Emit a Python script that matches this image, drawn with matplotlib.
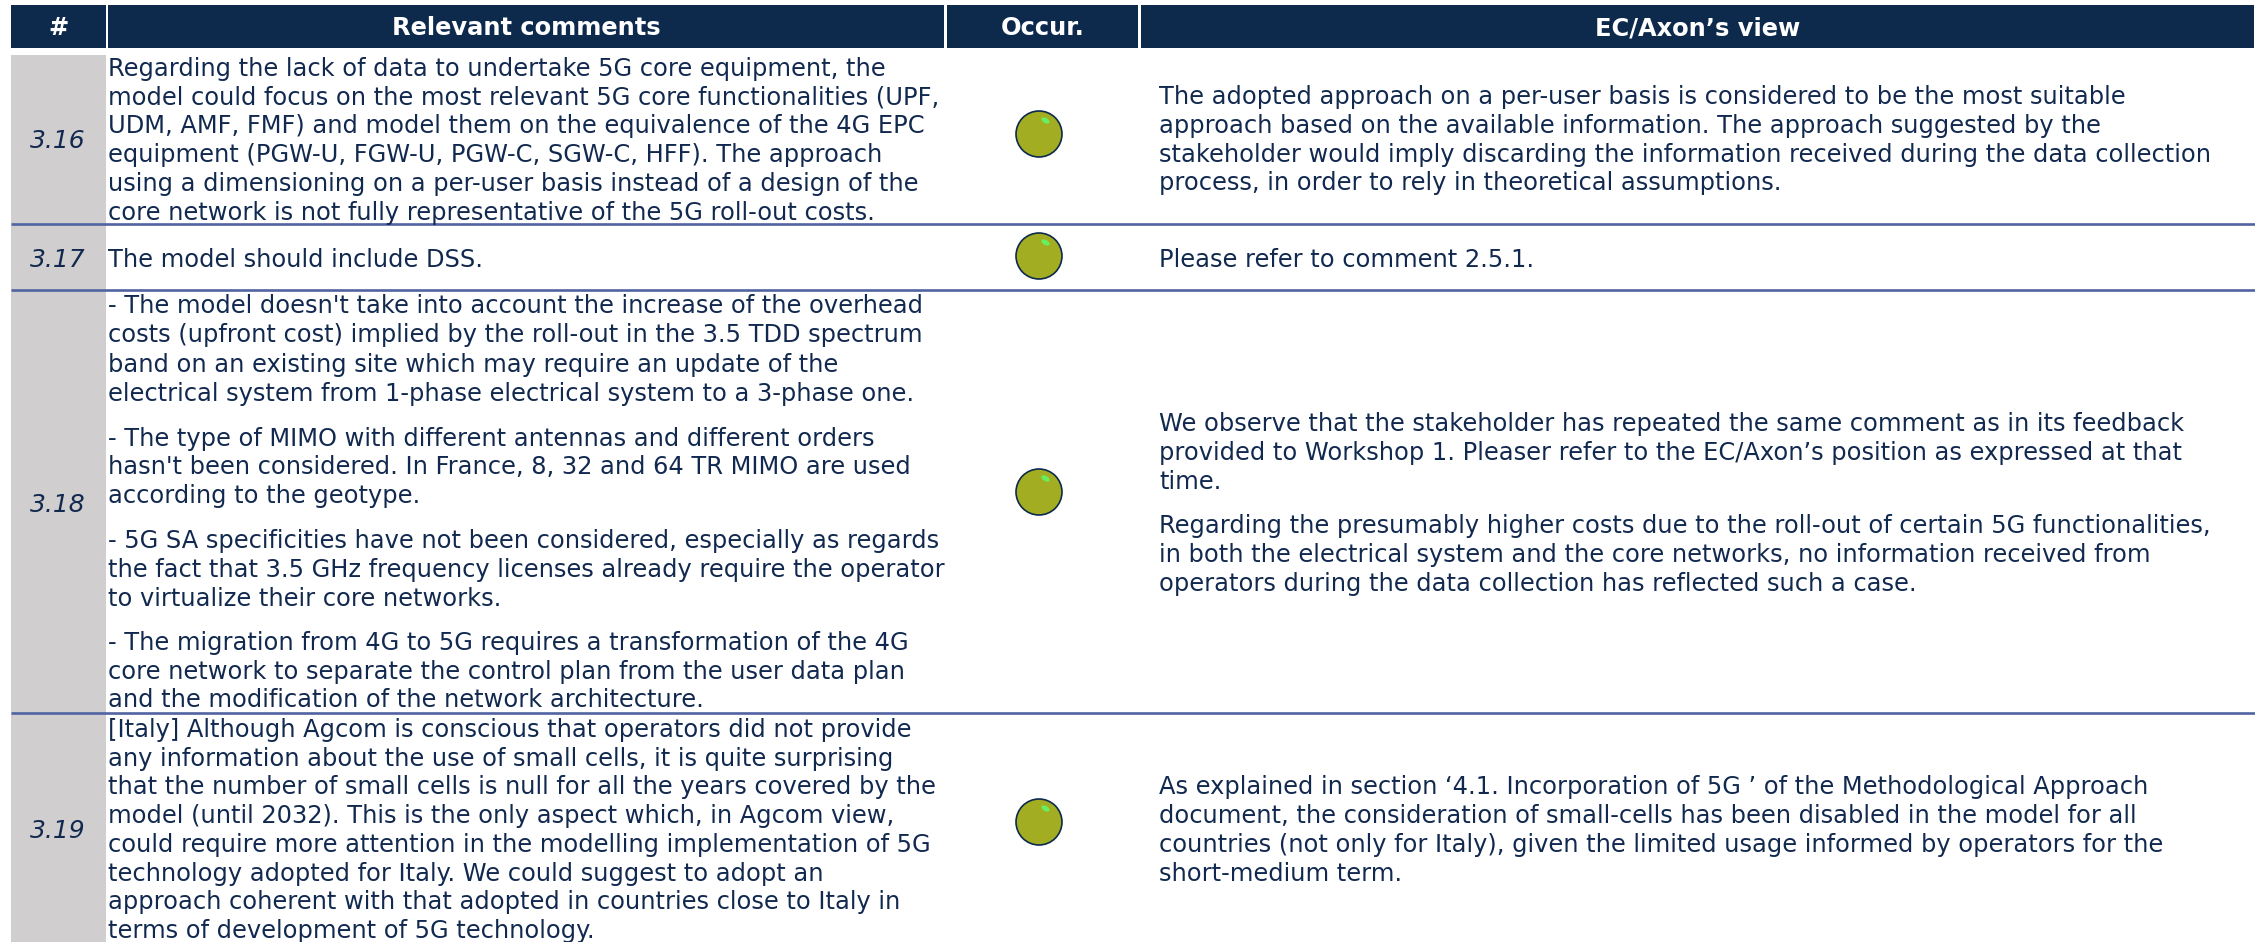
import matplotlib
matplotlib.use('Agg')
import matplotlib.pyplot as plt
from matplotlib.patches import Rectangle, Circle, Ellipse

NAVY = '#0D2A4D'
TEXT = '#12294F'
GREY = '#D0CECE'
RULE = '#5163A0'
OLIVE = '#A2AD22'

headers = ['#', 'Relevant comments', 'Occur.', 'EC/Axon\u2019s view']
row_ids = ['3.16', '3.17', '3.18', '3.19']

comments = [
    ['Regarding the lack of data to undertake 5G core equipment, the',
     'model could focus on the most relevant 5G core functionalities (UPF,',
     'UDM, AMF, FMF) and model them on the equivalence of the 4G EPC',
     'equipment (PGW-U, FGW-U, PGW-C, SGW-C, HFF). The approach',
     'using a dimensioning on a per-user basis instead of a design of the',
     'core network is not fully representative of the 5G roll-out costs.'],
    ['The model should include DSS.'],
    ["- The model doesn't take into account the increase of the overhead",
     'costs (upfront cost) implied by the roll-out in the 3.5 TDD spectrum',
     'band on an existing site which may require an update of the',
     'electrical system from 1-phase electrical system to a 3-phase one.',
     '- The type of MIMO with different antennas and different orders',
     "hasn't been considered. In France, 8, 32 and 64 TR MIMO are used",
     'according to the geotype.',
     '- 5G SA specificities have not been considered, especially as regards',
     'the fact that 3.5 GHz frequency licenses already require the operator',
     'to virtualize their core networks.',
     '- The migration from 4G to 5G requires a transformation of the 4G',
     'core network to separate the control plan from the user data plan',
     'and the modification of the network architecture.'],
    ['[Italy] Although Agcom is conscious that operators did not provide',
     'any information about the use of small cells, it is quite surprising',
     'that the number of small cells is null for all the years covered by the',
     'model (until 2032). This is the only aspect which, in Agcom view,',
     'could require more attention in the modelling implementation of 5G',
     'technology adopted for Italy. We could suggest to adopt an',
     'approach coherent with that adopted in countries close to Italy in',
     'terms of development of 5G technology.'],
]

views = [
    ['The adopted approach on a per-user basis is considered to be the most suitable',
     'approach based on the available information. The approach suggested by the',
     'stakeholder would imply discarding the information received during the data collection',
     'process, in order to rely in theoretical assumptions.'],
    ['Please refer to comment 2.5.1.'],
    ['We observe that the stakeholder has repeated the same comment as in its feedback',
     'provided to Workshop 1. Pleaser refer to the EC/Axon\u2019s position as expressed at that',
     'time.',
     'Regarding the presumably higher costs due to the roll-out of certain 5G functionalities,',
     'in both the electrical system and the core networks, no information received from',
     'operators during the data collection has reflected such a case.'],
    ['As explained in section \u20184.1. Incorporation of 5G \u2019 of the Methodological Approach',
     'document, the consideration of small-cells has been disabled in the model for all',
     'countries (not only for Italy), given the limited usage informed by operators for the',
     'short-medium term.'],
]

# baselines in pixels from the top of the image
comment_y = [
    [76, 105, 133, 162, 191, 220],
    [267],
    [313, 342, 372, 401, 446, 474, 503, 548, 577, 606, 650, 679, 707],
    [737, 766, 794, 823, 852, 881, 909, 938],
]
view_y = [
    [104, 133, 162, 190],
    [267],
    [431, 460, 489, 533, 562, 591],
    [794, 823, 852, 881],
]
id_y = [148, 267, 512, 838]
occur_y = [134, 256, 492, 822]
rule_y = [224, 290, 713]

header_x = [(11, 106), (108, 944), (947, 1138), (1141, 2254)]

fs = 17.4

fig = plt.figure(figsize=(22.55, 9.42), dpi=100)
ax = fig.add_axes([0, 0, 1, 1])
ax.set_xlim(0, 2255)
ax.set_ylim(942, 0)
ax.axis('off')

for (x0, x1), label in zip(header_x, headers):
    ax.add_patch(Rectangle((x0, 5), x1 - x0, 43, facecolor=NAVY, edgecolor='none'))
    ax.text((x0 + x1) / 2, 35, label, color='white', fontsize=fs, fontweight='bold',
            ha='center', va='baseline')

ax.add_patch(Rectangle((11, 55), 95, 887, facecolor=GREY, edgecolor='none'))

for y in rule_y:
    ax.plot([11, 2255], [y, y], color=RULE, lw=1.9, solid_capstyle='butt')

for label, y in zip(row_ids, id_y):
    ax.text(58, y, label, color=TEXT, fontsize=18, style='italic', ha='center', va='baseline')

for lines, ys in zip(comments, comment_y):
    for line, y in zip(lines, ys):
        ax.text(108, y, line, color=TEXT, fontsize=fs, ha='left', va='baseline')

for lines, ys in zip(views, view_y):
    for line, y in zip(lines, ys):
        ax.text(1159, y, line, color=TEXT, fontsize=fs, ha='left', va='baseline')

for y in occur_y:
    ax.add_patch(Circle((1039, y), 23, facecolor=OLIVE, edgecolor=NAVY, lw=1.2))
    ax.add_patch(Ellipse((1045.5, y - 13.5), 9, 5, angle=30, facecolor='#66F060', edgecolor='none'))

fig.savefig('out.png', dpi=100)
